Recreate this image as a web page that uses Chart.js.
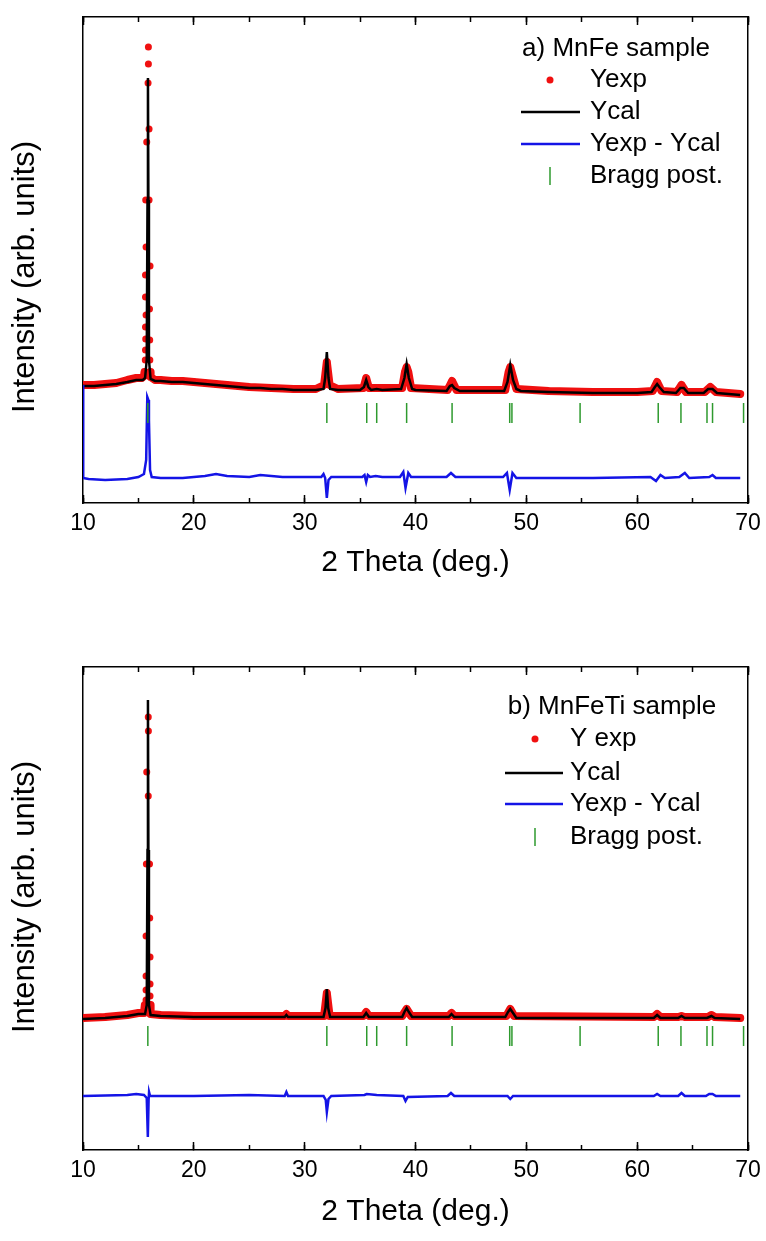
<!DOCTYPE html>
<html>
<head>
<meta charset="utf-8">
<script src="https://cdn.jsdelivr.net/npm/chart.js@4.4.0/dist/chart.umd.min.js"></script>
<style>
  html, body { margin: 0; padding: 0; background: #fff; }
  canvas { position: absolute; left: 0; }
  #c1 { top: 0; }
  #c2 { top: 620px; }
</style>
</head>
<body>
<canvas id="c1" width="766" height="620"></canvas>
<canvas id="c2" width="766" height="621"></canvas>
<script>
// Bragg positions (2 theta), same phase in both samples
const braggTheta = [15.85, 32.0, 35.6, 36.5, 39.2, 43.3, 48.5, 48.7, 54.85, 61.9, 63.95, 66.3, 66.8, 69.6];

// ---- a) MnFe sample ----
const aCalX = [10, 11, 12, 13, 14, 14.8, 15.4, 15.6, 15.75, 15.82, 15.86, 15.9, 15.95, 16.1, 16.5, 17, 18, 19, 20, 21, 22, 23, 24, 25, 26, 27, 28, 29, 30, 31, 31.7, 31.85, 32.0, 32.15, 32.3, 33, 35, 35.35, 35.55, 35.75, 36, 36.5, 37, 38.7, 39.0, 39.2, 39.4, 39.7, 40, 42.8, 43.1, 43.3, 43.5, 44, 48, 48.3, 48.55, 48.8, 49.1, 49.5, 52, 56, 60, 61.3, 61.6, 61.8, 62.0, 62.4, 63.5, 63.9, 64.2, 64.6, 66, 66.4, 66.8, 67.2, 69.3];
const aCalY = [117, 117, 118, 119, 121, 123, 123, 125, 143, 303, 425, 303, 143, 124, 122, 122, 121, 121, 120, 119, 118, 117, 116, 115, 115, 114, 114, 113, 113, 113, 114, 125, 151, 125, 114, 113, 113, 116, 123, 116, 113, 114, 113, 114, 125, 139, 125, 114, 113, 112, 117, 118, 115, 112, 112, 121, 138, 123, 114, 112, 111, 110, 110, 111, 116, 119, 116, 111, 110, 115, 115, 110, 110, 114, 114, 110, 108];

const aExpX = [10, 11, 12, 13, 14, 14.8, 15.3, 15.5,
  15.55, 15.62, 15.64, 15.64, 15.64, 15.64, 15.66, 15.66, 15.69, 15.69, 15.75, 15.87, 15.9, 15.9, 15.96, 15.96, 16.0, 16.02, 16.03, 16.05, 16.06,
  16.1, 16.5, 17, 18, 19, 20, 21, 22, 23, 24, 25, 27, 29, 31, 31.75, 32.0, 32.25, 33, 35.3, 35.55, 35.8, 36.5, 38.8, 39.05, 39.2, 39.35, 39.6, 42.9, 43.3, 43.7, 48.1, 48.4, 48.55, 48.75, 49.1, 52, 56, 60, 61.4, 61.8, 62.2, 63.6, 64.0, 64.4, 66.1, 66.6, 67.1, 69.3];
const aExpY = [118, 118, 119, 120, 123, 125, 125, 127,
  131, 143, 153, 176, 206, 228, 164, 303, 188, 256, 361, 420, 439, 456, 374, 303, 194, 163, 143, 237, 131,
  126, 123, 123, 122, 122, 121, 120, 119, 118, 117, 116, 115, 114, 114, 118, 141, 118, 114, 115, 125, 115, 115, 115, 131, 136, 131, 115, 113, 122, 113, 113, 131, 136, 128, 114, 112, 111, 111, 112, 121, 112, 111, 118, 111, 111, 116, 111, 109];

const aDifX = [10, 10.02, 10.5, 12, 14, 15, 15.5, 15.7, 15.8, 15.9, 15.95, 16.05, 16.2, 17, 19, 21, 22, 23, 25, 26, 28, 30, 31.5, 31.7, 31.85, 32.0, 32.15, 32.4, 35.2, 35.4, 35.55, 35.7, 35.9, 36.4, 37, 38.6, 38.9, 39.1, 39.35, 39.6, 42.8, 43.2, 43.6, 47.9, 48.25, 48.5, 48.75, 49.1, 56, 61.2, 61.7, 62.1, 62.5, 63.8, 64.3, 64.7, 66.5, 66.8, 67.1, 69.3];
const aDifY = [118, 25, 24, 23, 24, 26, 29, 43, 106, 103, 83, 33, 26, 25, 25, 27, 29, 27, 26, 28, 26, 26, 26, 29, 25, 5, 23, 26, 26, 28, 21, 28, 26, 27, 26, 26, 31, 15, 30, 26, 26, 30, 26, 26, 30, 13, 30, 25, 25, 26, 22, 28, 25, 26, 30, 25, 26, 28, 25, 25];

// ---- b) MnFeTi sample ----
const bCalX = [10, 12, 14, 15, 15.6, 15.75, 15.82, 15.86, 15.9, 15.95, 16.1, 17, 20, 25, 28.2, 28.35, 28.5, 31.7, 31.88, 32.0, 32.12, 32.3, 35.3, 35.55, 35.8, 38.8, 39.0, 39.2, 39.4, 39.7, 43.0, 43.25, 43.5, 48.1, 48.35, 48.55, 48.8, 49.1, 61.5, 61.8, 62.1, 63.7, 64.0, 64.3, 66.3, 66.7, 67.0, 69.3];
const bCalY = [131, 132, 134, 136, 136, 145, 300, 450, 300, 145, 135, 134, 133, 133, 133, 135, 133, 133, 142, 161, 142, 133, 133, 137, 133, 133, 138, 142, 138, 133, 133, 136, 133, 133, 138, 141, 137, 132, 132, 135, 132, 132, 134, 132, 132, 134, 132, 131];

const bExpX = [10, 12, 14, 15, 15.5,
  15.58, 15.69, 15.69, 15.69, 15.69, 15.72, 15.75, 15.89, 15.89, 15.9, 16.0, 16.02, 16.05, 16.05, 16.05, 16.06,
  16.1, 17, 20, 25, 28.2, 28.35, 28.5, 31.75, 32.0, 32.25, 35.3, 35.55, 35.8, 38.8, 39.2, 39.6, 43.0, 43.25, 43.5, 48.2, 48.55, 48.9, 61.5, 61.8, 62.1, 63.7, 64.0, 64.3, 66.4, 66.7, 67.0, 69.3];
const bExpY = [132, 133, 135, 137, 137,
  145, 150, 160, 174, 214, 286, 378, 354, 433, 419, 286, 232, 193, 166, 154, 145,
  136, 135, 134, 134, 134, 136, 134, 134, 157, 134, 134, 138, 134, 134, 141, 134, 134, 137, 134, 134, 141, 134, 133, 136, 133, 133, 134, 133, 133, 135, 133, 132];

const bDifX = [10, 14, 14.8, 15.5, 15.75, 15.85, 15.92, 15.96, 16.05, 20, 25, 28.2, 28.35, 28.5, 31.7, 31.9, 32.0, 32.15, 32.4, 35.4, 35.6, 36.5, 38.9, 39.1, 39.3, 42.9, 43.2, 43.5, 48.3, 48.55, 48.8, 61.5, 61.8, 62.1, 63.7, 64.0, 64.3, 66.2, 66.5, 66.8, 67.1, 69.3];
const bDifY = [54, 55, 56, 55, 52, 13, 50, 58, 54, 54, 55, 54, 58, 54, 54, 50, 38, 51, 54, 55, 56, 55, 54, 49, 53, 54, 57, 54, 54, 51, 54, 54, 56, 54, 54, 57, 54, 54, 56, 56, 54, 54];

const RED = '#f01010';
const BLUE = '#1414e6';
const GREEN = '#2e9a2e';
const FONT = '"Liberation Sans", Arial, sans-serif';

const zip = (xs, ys) => xs.map((x, i) => ({ x: x, y: ys[i] }));

// hide the connecting line between the scattered dots of the main peak
const inMainPeak = c => c.p0.parsed.x > 15.52 && c.p1.parsed.x < 16.08;

const sampleLegend = {
  id: 'sampleLegend',
  afterDraw(chart, args, o) {
    const ctx = chart.ctx;
    ctx.save();
    // y axis title
    ctx.save();
    ctx.translate(25, o.ty);
    ctx.rotate(-Math.PI / 2);
    ctx.font = '31px ' + FONT;
    ctx.fillStyle = '#000';
    ctx.textAlign = 'center';
    ctx.textBaseline = 'middle';
    ctx.fillText('Intensity (arb. units)', 0, 0);
    ctx.restore();

    ctx.font = '26px ' + FONT;
    ctx.fillStyle = '#000';
    ctx.textBaseline = 'middle';
    ctx.textAlign = 'center';
    ctx.fillText(o.header, o.hx, o.hy);
    ctx.textAlign = 'left';
    chart.data.datasets.forEach((ds, i) => {
      const y = o.rows[i];
      if (i === 0) {
        ctx.fillStyle = RED;
        ctx.beginPath(); ctx.arc(o.sx, y, 3.5, 0, Math.PI * 2); ctx.fill();
      } else if (i === 3) {
        ctx.strokeStyle = GREEN; ctx.lineWidth = 1.5;
        ctx.beginPath(); ctx.moveTo(o.sx, y - 9); ctx.lineTo(o.sx, y + 9); ctx.stroke();
      } else {
        ctx.strokeStyle = ds.borderColor; ctx.lineWidth = 2.5;
        ctx.beginPath(); ctx.moveTo(o.lx0, y); ctx.lineTo(o.lx1, y); ctx.stroke();
      }
      ctx.fillStyle = '#000';
      ctx.fillText(ds.label, o.tx, y);
    });
    ctx.restore();
  }
};

function xAxis(pos, step, tick, labels, h, weight) {
  return {
    type: 'linear', position: pos, min: 10, max: 70, weight: weight,
    ticks: { display: labels, stepSize: step, padding: 15, maxRotation: 0, color: '#000', font: { family: FONT, size: 23 } },
    grid: { drawOnChartArea: false, tickLength: tick, tickWidth: 1.5, tickColor: '#000' },
    border: { display: weight === 1, color: '#000', width: 1.5 },
    title: { display: labels, text: '2 Theta (deg.)', color: '#000', font: { family: FONT, size: 30 }, padding: { top: 0, bottom: 0 } },
    afterFit: sc => { sc.height = h; sc.paddingLeft = 0; sc.paddingRight = 0; }
  };
}

function makeChart(id, s) {
  return new Chart(document.getElementById(id), {
    type: 'scatter',
    data: {
      datasets: [
        { label: s.labels[0], data: zip(s.expX, s.expY), showLine: true, borderColor: RED, borderWidth: 8,
          borderJoinStyle: 'round', borderCapStyle: 'round',
          segment: { borderColor: c => inMainPeak(c) ? 'rgba(0,0,0,0)' : RED },
          pointRadius: 3.5, pointBackgroundColor: RED, pointBorderWidth: 0, order: 3 },
        { label: s.labels[1], data: zip(s.calX, s.calY), showLine: true, borderColor: '#000', borderWidth: 2.5,
          pointRadius: 0, order: 2 },
        { label: s.labels[2], data: zip(s.difX, s.difY), showLine: true, borderColor: BLUE, borderWidth: 2.5,
          pointRadius: 0, order: 1 },
        { label: s.labels[3], data: braggTheta.map(x => ({ x: x, y: s.braggY })), showLine: false,
          pointStyle: 'line', rotation: 90, pointRadius: 10, borderColor: GREEN, pointBorderColor: GREEN,
          pointBorderWidth: 1.5, order: 0 }
      ]
    },
    options: {
      responsive: false,
      animation: false,
      layout: { padding: s.pad },
      plugins: { legend: { display: false }, tooltip: { enabled: false }, sampleLegend: s.legend },
      scales: {
        x: xAxis('bottom', 10, -8, true, s.xH, 1),
        xm: xAxis('bottom', 5, -5, false, 0, 0),
        xt: xAxis('top', 10, -8, false, 0, 1),
        xtm: xAxis('top', 5, -5, false, 0, 0),
        y: {
          position: 'left', min: 0, max: s.yMax,
          ticks: { display: false }, grid: { display: false },
          border: { color: '#000', width: 1.5 },
          afterFit: sc => { sc.width = 83; }
        },
        yr: {
          position: 'right', min: 0, max: s.yMax,
          ticks: { display: false }, grid: { display: false },
          border: { color: '#000', width: 1.5 },
          afterFit: sc => { sc.width = 18; }
        }
      }
    },
    plugins: [sampleLegend]
  });
}

makeChart('c1', {
  labels: ['Yexp', 'Ycal', 'Yexp - Ycal', 'Bragg post.'],
  expX: aExpX, expY: aExpY, calX: aCalX, calY: aCalY, difX: aDifX, difY: aDifY,
  braggY: 90, yMax: 486, xH: 78,
  pad: { top: 17, right: 0, bottom: 39, left: 0 },
  legend: { ty: 277, header: 'a) MnFe sample', hx: 616, hy: 49, rows: [80, 112, 144, 176], sx: 550, lx0: 521, lx1: 580, tx: 590 }
});

makeChart('c2', {
  labels: ['Y exp', 'Ycal', 'Yexp - Ycal', 'Bragg post.'],
  expX: bExpX, expY: bExpY, calX: bCalX, calY: bCalY, difX: bDifX, difY: bDifY,
  braggY: 114, yMax: 483, xH: 80,
  pad: { top: 47, right: 0, bottom: 11, left: 0 },
  legend: { ty: 277, header: 'b) MnFeTi sample', hx: 612, hy: 87, rows: [119, 153, 184, 217], sx: 535, lx0: 505, lx1: 563, tx: 570 }
});
</script>
</body>
</html>
